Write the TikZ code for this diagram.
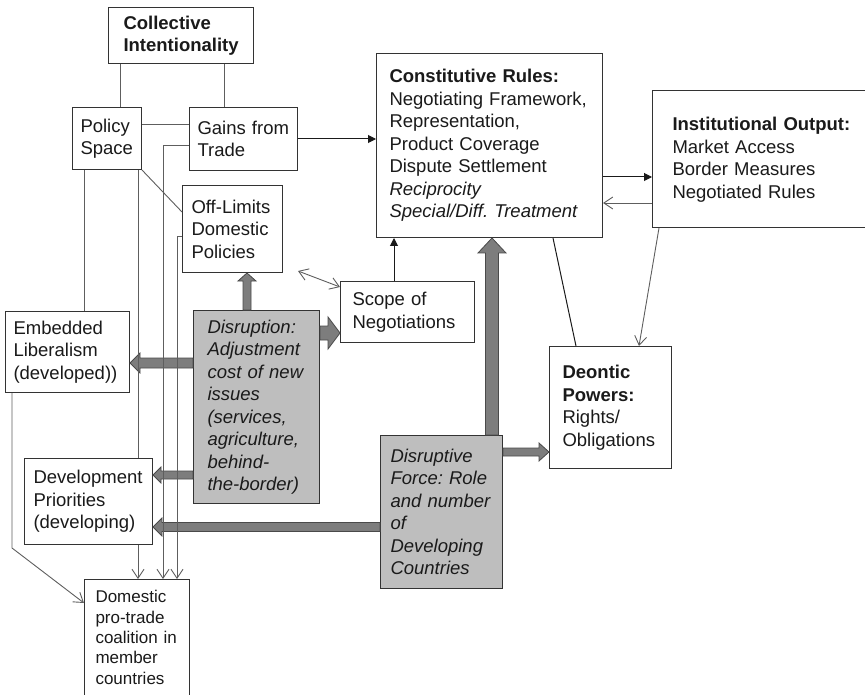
\documentclass[tikz,border=0pt]{standalone}
\usepackage{fontspec}
\setmainfont{Liberation Sans}
\usetikzlibrary{calc,arrows.meta}

\definecolor{boxedge}{HTML}{333333}
\definecolor{thin}{HTML}{5E5E5E}
\definecolor{ink}{HTML}{1A1A1A}
\definecolor{shade}{HTML}{BEBEBE}
\definecolor{fatfill}{HTML}{7D7D7D}
\definecolor{fatedge}{HTML}{4A4A4A}

\tikzset{
  box/.style={draw=boxedge, line width=1pt, fill=white, anchor=north west,
    align=left, inner ysep=0pt, text=ink,
    font=\fontsize{18.5pt}{22.5pt}\selectfont},
  shaded/.style={box, fill=shade, font=\fontsize{18.5pt}{22.5pt}\selectfont\itshape},
  wire/.style={draw=thin, line width=0.9pt},
  blk/.style={draw=ink, line width=1pt},
  solidtip/.style={-{Triangle[length=8pt,width=8pt]}},
  opentip/.style={-{Straight Barb[length=9pt,width=12pt]}},
  fat/.style={fill=fatfill, draw=fatedge, line width=0.8pt, line join=miter},
}

% broad block arrow: start, tip, half shaft width, half head width, head length
\newcommand\fatarrow[5]{%
  \coordinate (fh) at ($(#2)!#5!(#1)$);
  \path[fat] ($(#1)!#3!90:(#2)$) -- ($(fh)!#3!90:(#2)$) -- ($(fh)!#4!90:(#2)$)
    -- (#2) -- ($(fh)!#4!-90:(#2)$) -- ($(fh)!#3!-90:(#2)$)
    -- ($(#1)!#3!-90:(#2)$) -- cycle;}

\begin{document}
\begin{tikzpicture}[x=1pt, y=-1pt]
\path[use as bounding box] (0,0) coordinate (tl) rectangle (865,695) coordinate (br);

% ---- boxes ----
\node[box, minimum width=145pt, minimum height=56pt, inner xsep=15pt, text width=115pt]
  (coll) at (108,7) {\textbf{Collective}\\\textbf{Intentionality}};
\node[box, minimum width=69pt, minimum height=62pt, inner xsep=8pt, text width=53pt]
  (pol) at (72,107) {Policy\\Space};
\node[box, minimum width=108pt, minimum height=63pt, inner xsep=8pt, text width=92pt]
  (gains) at (189,107) {Gains~from\\Trade};
\node[box, minimum width=100pt, minimum height=87pt, inner xsep=9pt, text width=82pt]
  (offl) at (182,185) {Off-Limits\\Domestic\\Policies};
\node[box, minimum width=226pt, minimum height=184pt, inner xsep=13pt, text width=200pt]
  (cons) at (376,53) {\textbf{Constitutive~Rules:}\\Negotiating~Framework,\\Representation,\\Product~Coverage\\Dispute~Settlement\\\textit{Reciprocity}\\\textit{Special/Diff.~Treatment}};
\node[box, draw=none, minimum width=240pt, minimum height=136pt, inner xsep=20pt, text width=200pt]
  (inst) at (652,91) {\textbf{Institutional~Output:}\\Market~Access\\Border~Measures\\Negotiated~Rules};
\draw[draw=boxedge, line width=1pt] (inst.north west -| br) -- (inst.north west)
  -- (inst.south west) -- (inst.south west -| br);
\node[box, minimum width=134pt, minimum height=61pt, inner xsep=12pt, text width=110pt]
  (scope) at (340,281) {Scope~of\\Negotiations};
\node[box, minimum width=122pt, minimum height=122pt, inner xsep=13pt, text width=96pt]
  (deon) at (549,346) {\textbf{Deontic}\\\textbf{Powers:}\\Rights/\\Obligations};
\node[box, minimum width=124pt, minimum height=81pt, inner xsep=8pt, text width=108pt]
  (emb) at (5,311) {Embedded\\Liberalism\\(developed))};
\node[shaded, minimum width=126pt, minimum height=193pt, inner xsep=14pt, text width=98pt]
  (dis) at (193,310) {Disruption:\\Adjustment\\cost~of~new\\issues\\(services,\\agriculture,\\behind-\\the-border)};
\node[box, minimum width=128pt, minimum height=86pt, inner xsep=9pt, text width=110pt]
  (dev) at (24,458) {Development\\Priorities\\(developing)};
\node[shaded, minimum width=122pt, minimum height=153pt, inner xsep=10pt, text width=102pt]
  (dfor) at (380,435) {Disruptive\\Force:~Role\\and~number\\of\\Developing\\Countries};
\node[box, draw=none, minimum width=104pt, minimum height=116pt, inner xsep=11pt, text width=82pt,
  font=\fontsize{17pt}{20.3pt}\selectfont]
  (dom) at (84,579) {Domestic\\pro-trade\\coalition~in\\member\\countries};
\draw[draw=boxedge, line width=1pt] (dom.south west |- br) -- (dom.north west)
  -- (dom.north east) -- (dom.south east |- br);

% ---- broad arrows out of the two disruption boxes ----
\coordinate (f1) at ($(dis.north west)+(54,0)$);
\coordinate (f1t) at (f1 |- offl.south);
\fatarrow{f1}{f1t}{4pt}{9pt}{8pt}
\coordinate (f2) at ($(dis.north east)+(0,23)$);
\coordinate (f2t) at (f2 -| scope.west);
\fatarrow{f2}{f2t}{7pt}{16pt}{12pt}
\coordinate (f3) at ($(dis.north west)+(0,53)$);
\coordinate (f3t) at (f3 -| emb.east);
\fatarrow{f3}{f3t}{5pt}{10pt}{10pt}
\coordinate (f4) at ($(dis.north west)+(0,165)$);
\coordinate (f4t) at (f4 -| dev.east);
\fatarrow{f4}{f4t}{4pt}{8pt}{8pt}
\coordinate (f5) at ($(dfor.north east)+(-11,0)$);
\coordinate (f5t) at (f5 |- cons.south);
\fatarrow{f5}{f5t}{6.5pt}{14pt}{15pt}
\coordinate (f6) at ($(dfor.north east)+(0,17)$);
\coordinate (f6t) at (f6 -| deon.west);
\fatarrow{f6}{f6t}{4pt}{9pt}{10pt}
\coordinate (f7) at ($(dfor.north west)+(0,92)$);
\coordinate (f7t) at (f7 -| dev.east);
\fatarrow{f7}{f7t}{4.5pt}{9pt}{9pt}

% ---- thin connectors ----
\coordinate (a1) at ($(pol.north west)+(48,0)$);
\draw[wire] (a1) -- (a1 |- coll.south);
\coordinate (b1) at ($(gains.north west)+(35,0)$);
\draw[wire] (b1) -- (b1 |- coll.south);
\coordinate (c1) at ($(pol.north east)+(0,17)$);
\draw[wire] (c1) -- (c1 -| gains.west);
\draw[blk, solidtip] (gains.east) -- (gains.east -| cons.west);

\coordinate (e1) at ($(gains.north west)+(0,38)$);
\coordinate (e2) at ($(dom.north west)+(79,0)$);
\draw[wire, opentip] (e1) -| (e2);
\coordinate (g1) at ($(offl.north west)+(0,51)$);
\coordinate (g2) at ($(dom.north west)+(93,0)$);
\draw[wire, opentip] (g1) -| (g2);
\coordinate (p0) at ($(pol.south west)+(66,0)$);
\draw[wire] (p0) -- (p0 |- dev.north);
\coordinate (p1) at (p0 |- dev.south);
\draw[wire, opentip] (p1) -- (p1 |- dom.north);
\coordinate (h1) at ($(offl.north west)+(0,27)$);
\draw[wire] (pol.south east) -- (h1);
\coordinate (i1) at ($(pol.south west)+(12,0)$);
\draw[wire] (i1) -- (i1 |- emb.north);
\coordinate (j1) at ($(emb.south west)+(7,0)$);
\coordinate (j2) at ($(j1)+(0,155)$);
\coordinate (j3) at ($(dom.north west)+(0,24)$);
\draw[wire, opentip] (j1) -- (j2) -- (j3);

\coordinate (k1) at ($(offl.south east)+(15,-2)$);
\coordinate (k2) at ($(scope.north west)+(0,6)$);
\draw[wire, {Straight Barb[length=9pt,width=12pt]}-{Straight Barb[length=9pt,width=12pt]}] (k1) -- (k2);

\coordinate (l1) at ($(scope.north west)+(54,0)$);
\draw[blk, solidtip] (l1) -- (l1 |- cons.south);
\coordinate (m1) at ($(cons.north east)+(0,124)$);
\draw[blk, solidtip] (m1) -- (m1 -| inst.west);
\coordinate (n1) at ($(inst.north west)+(0,112)$);
\draw[wire, opentip] (n1) -- (n1 -| cons.east);
\coordinate (o1) at ($(cons.south west)+(177,0)$);
\coordinate (o2) at ($(deon.north west)+(27,0)$);
\draw[blk] (o1) -- (o2);
\coordinate (q1) at ($(inst.south west)+(7,0)$);
\coordinate (q2) at ($(deon.north west)+(90,0)$);
\draw[wire, opentip] (q1) -- (q2);
\end{tikzpicture}
\end{document}
